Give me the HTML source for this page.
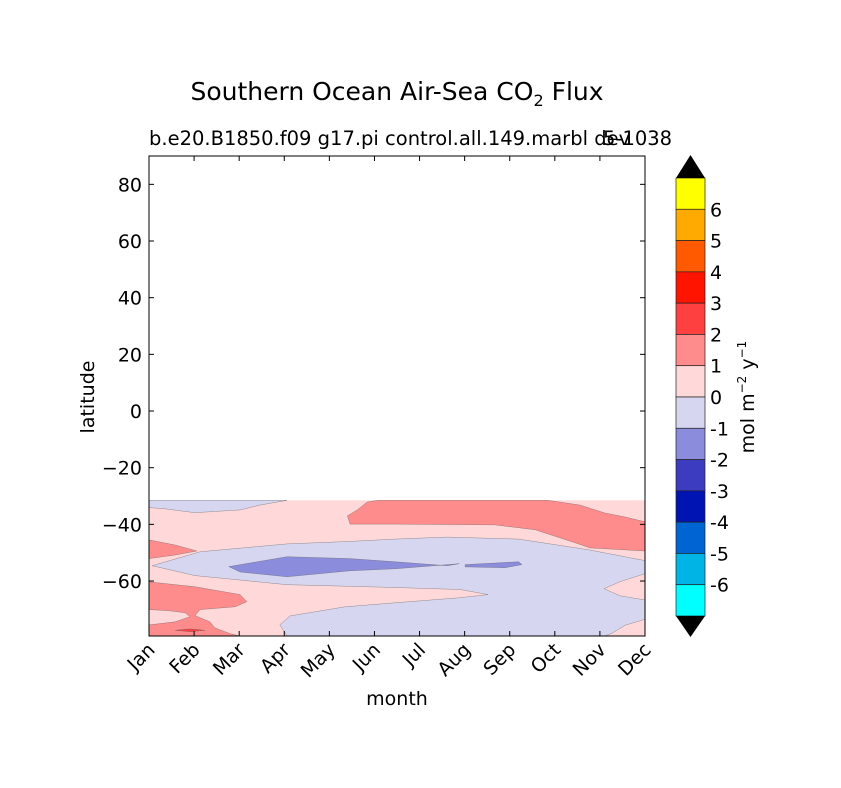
<!DOCTYPE html>
<html><head><meta charset="utf-8"><style>
body{margin:0;background:#fff;}
svg{display:block;font-family:"DejaVu Sans","Liberation Sans",sans-serif;}
</style></head><body>
<svg id="chart" width="841" height="788" viewBox="0 0 841 788">
<text x="397" y="100" font-size="25" text-anchor="middle">Southern Ocean Air-Sea CO<tspan font-size="16" dy="6">2</tspan><tspan dy="-6"> Flux</tspan></text>
<text x="149" y="145" font-size="19.5">b.e20.B1850.f09 g17.pi control.all.149.marbl dev</text>
<text x="603" y="145" font-size="19.5">5-1038</text>
<g id="plot"></g>
<g id="cbar"></g>
<text x="397" y="705" font-size="19" text-anchor="middle">month</text>
<text transform="translate(94,397) rotate(-90)" font-size="19" text-anchor="middle">latitude</text>
<text transform="translate(754,397) rotate(-90)" font-size="19" text-anchor="middle">mol m<tspan font-size="12" dy="-8">−2</tspan><tspan dy="8"> y</tspan><tspan font-size="12" dy="-8">−1</tspan></text>
</svg>
<script>
const months=["Jan","Feb","Mar","Apr","May","Jun","Jul","Aug","Sep","Oct","Nov","Dec"];
const latTicks=[80,60,40,20,0,-20,-40,-60];
const levels=[6,5,4,3,2,1,0,-1,-2,-3,-4,-5,-6];
const levelColors=["#ffff00","#ffaa00","#ff5a00","#ff1400","#ff4040","#ff8c8c","#ffd9d9","#d6d6f0","#8c8cdc","#3c3cc0","#0014b4","#0064d2","#00b4e6","#00ffff"];
const dataTopLat=-31.5;
const regionBlueTop=[[0,-31.5],[3.06,-31.5],[2.46,-33.2],[2.02,-34.9],[1.02,-35.9],[0.35,-34.5],[0,-34.1]];
const regionRedTop=[[4.4,-37.0],[4.62,-34.9],[4.84,-32.1],[5.07,-31.5],[8.85,-31.5],[9.56,-33.2],[10.11,-36.0],[10.56,-37.4],[11,-39.1],[11,-49.4],[9.78,-48.3],[9.45,-46.5],[8.56,-41.9],[7.67,-40.2],[5.46,-39.9],[4.46,-39.9]];
const regionRedLeft=[[0,-45.5],[0.58,-47.3],[1.06,-49.4],[0.58,-50.8],[0,-52.1]];
const regionBlueMid=[[0.07,-54.6],[1.13,-49.7],[3.06,-46.9],[4.46,-46.0],[5.46,-45.2],[6.61,-44.5],[8.2,-45.2],[9.76,-49.0],[11,-52.8],[11,-79.4],[3.06,-79.4],[2.9,-75.5],[3.13,-72.3],[4.35,-69.1],[5.46,-67.7],[6.9,-65.9],[7.52,-64.8],[6.9,-63.0],[5.46,-62.3],[3.06,-61.3],[1.02,-58.1],[0.07,-54.6]];
const regionPinkLobe=[[11,-57.4],[10.45,-60.2],[10.09,-62.7],[10.45,-65.2],[11,-66.7]];
const regionPinkCorner=[[11,-73.5],[10.56,-75.6],[10.27,-78.4],[10.11,-79.4],[11,-79.4]];
const regionDarkBlue1=[[1.77,-54.9],[3.06,-51.4],[4.46,-52.1],[5.46,-53.2],[6.61,-54.6],[6.88,-53.9],[5.46,-55.7],[4.46,-56.4],[3.06,-58.5],[2.02,-56.8]];
const regionDarkBlue2=[[7.01,-54.2],[8.2,-53.2],[8.27,-54.2],[7.9,-55.3],[7.01,-55.0]];
const regionRedBL=[[0,-60.3],[1.02,-62.0],[2.02,-64.8],[2.17,-67.3],[1.91,-69.1],[1.13,-70.1],[1.02,-72.2],[1.35,-74.4],[1.46,-76.5],[1.8,-78.6],[2.02,-79.4],[0,-79.4],[0,-75.5],[0.58,-74.4],[0.91,-72.6],[0.8,-71.2],[0.46,-70.5],[0,-70.1]];
const regionRed3=[[0.58,-77.4],[0.91,-76.9],[1.24,-77.4],[0.91,-77.9]];
const regions=[[regionBlueTop,1],[regionRedTop,0],[regionRedLeft,0],[regionBlueMid,1],[regionPinkLobe,2],[regionPinkCorner,2],[regionDarkBlue1,3],[regionDarkBlue2,3],[regionRedBL,0],[regionRed3,4]];
const regionFills=["#ff8c8c","#d6d6f0","#ffd9d9","#8c8cdc","#ff4040"];

const X0=149,X1=645,Y0=156,Y1=636;
const latMin=-79.4,latMax=90;
function xs(m){return X0+m*(X1-X0)/11;}
function ys(l){return Y1-(l-latMin)*(Y1-Y0)/(latMax-latMin);}
const NS="http://www.w3.org/2000/svg";
function mk(tag,attrs,parent){const e=document.createElementNS(NS,tag);for(const k in attrs)e.setAttribute(k,attrs[k]);parent.appendChild(e);return e;}
const plot=document.getElementById('plot');
let r=mk('rect',{x:X0,y:ys(dataTopLat),width:X1-X0,height:Y1-ys(dataTopLat),fill:"#ffd9d9"},plot);


regions.forEach((rg,i)=>{
  const pts=rg[0].map(p=>xs(p[0]).toFixed(1)+","+ys(p[1]).toFixed(1)).join(" ");
  const p=mk('polygon',{points:pts,fill:regionFills[rg[1]],stroke:"#555",'stroke-width':0.5,'stroke-opacity':0.6},plot);
  
  
});
let fr=mk('rect',{x:X0,y:Y0,width:X1-X0,height:Y1-Y0,fill:"none",stroke:"#000",'stroke-width':1},plot);


months.forEach((m,i)=>{
  const x=xs(i);
  mk('line',{x1:x,y1:Y1,x2:x,y2:Y1-5,stroke:"#000"},plot);
  mk('line',{x1:x,y1:Y0,x2:x,y2:Y0+5,stroke:"#000"},plot);
  const t=mk('text',{transform:`translate(${x+7},${Y1+15}) rotate(-45)`,'font-size':19,'text-anchor':'end'},plot);
  t.textContent=m;
  
  
});
latTicks.forEach(l=>{
  const y=ys(l);
  mk('line',{x1:X0,y1:y,x2:X0+5,y2:y,stroke:"#000"},plot);
  mk('line',{x1:X1,y1:y,x2:X1-5,y2:y,stroke:"#000"},plot);
  const t=mk('text',{x:X0-7,y:y+7,'font-size':19,'text-anchor':'end'},plot);
  t.textContent=l<0?"−"+(-l):String(l);
  
  
});
const cb=document.getElementById('cbar');
const CX0=676,CX1=705,CY0=178,CY1=616;
const h=(CY1-CY0)/levelColors.length;
levelColors.forEach((c,i)=>{
  const s=mk('rect',{x:CX0,y:CY0+i*h,width:CX1-CX0,height:h,fill:c,stroke:"#222",'stroke-width':0.7},cb);
  
  
});
let ta=mk('polygon',{points:`${CX0},${CY0} ${CX1},${CY0} ${(CX0+CX1)/2},155`,fill:"#000"},cb);


let tb=mk('polygon',{points:`${CX0},${CY1} ${CX1},${CY1} ${(CX0+CX1)/2},637`,fill:"#000"},cb);


levels.forEach((v,i)=>{
  const y=CY0+(i+1)*h;
  const t=mk('text',{x:710,y:y+7,'font-size':19},cb);
  t.textContent=v<0?"-"+(-v):String(v);
  
  
});
</script>
</body></html>
